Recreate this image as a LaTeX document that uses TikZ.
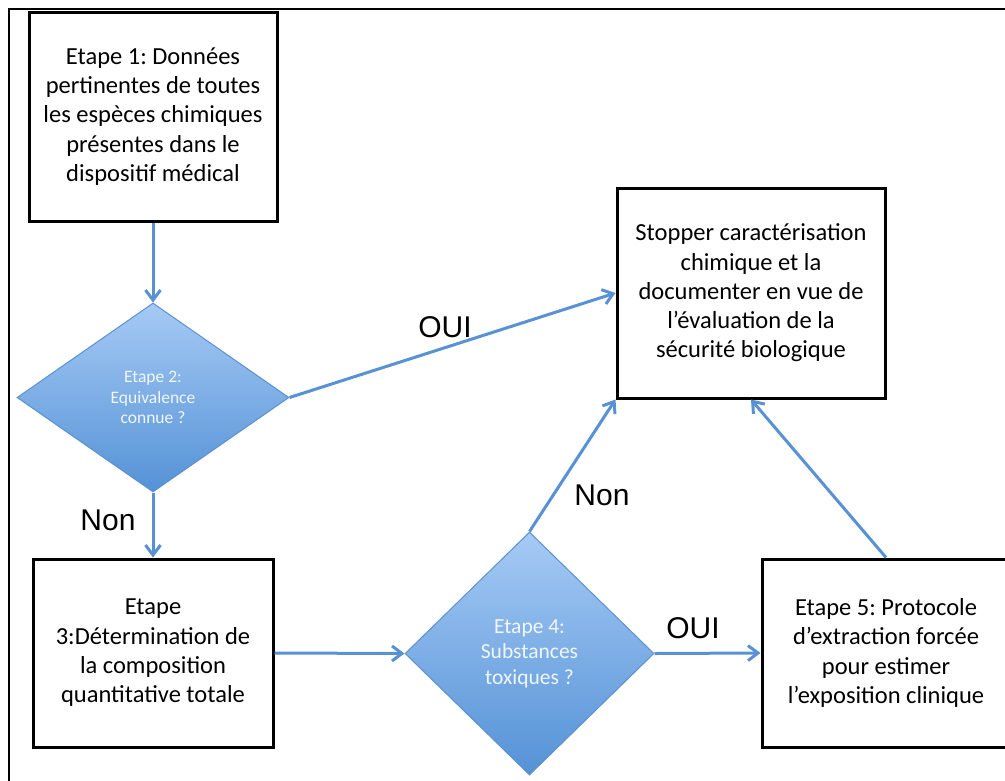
\documentclass[tikz,border=0pt]{standalone}
\usepackage{fontspec}
\setmainfont{Carlito}
\newfontfamily\labfont{Liberation Sans}
\usetikzlibrary{shapes.geometric,arrows.meta}
\frenchspacing
\definecolor{flowblue}{RGB}{88,145,212}
\definecolor{diatop}{RGB}{166,202,245}
\definecolor{diabot}{RGB}{84,146,214}
\definecolor{diaedge}{RGB}{92,145,205}
\definecolor{diatext}{RGB}{240,246,252}
\tikzset{
  stepbox/.style={draw=black,line width=3pt,align=center,inner sep=0pt,
    font=\fontsize{24.5}{29.3}\selectfont},
  decision/.style={diamond,draw=diaedge,line width=1pt,top color=diatop,bottom color=diabot,
    text=diatext,align=center,inner sep=0pt},
  flow/.style={draw=flowblue,line width=3pt,-{Straight Barb[length=10pt,width=15pt]}},
  lab/.style={font=\labfont\fontsize{30}{36}\selectfont,inner sep=0pt}
}
\begin{document}
\begin{tikzpicture}[x=1pt,y=-1pt]
\useasboundingbox (0,0) rectangle (1005,780);
\fill[white] (0,0) rectangle (1005,780);
\draw[line width=2.2pt] (9,781) -- (9,9) -- (1006,9);

\node[stepbox,minimum width=248pt,minimum height=209pt] (s1) at (153,116.5)
  {Etape 1: Données\\pertinentes de toutes\\les espèces chimiques\\présentes dans le\\dispositif médical};
\node[decision,minimum width=272pt,minimum height=189pt,font=\fontsize{17.5}{20.7}\selectfont] (d2) at (153,397.5)
  {Etape 2:\\Equivalence\\connue ?};
\node[stepbox,minimum width=240pt,minimum height=188pt] (s3) at (153,653)
  {Etape\\3:Détermination de\\la composition\\quantitative totale};
\node[decision,minimum width=249pt,minimum height=243pt,font=\fontsize{21.5}{25.6}\selectfont] (d4) at (529.5,653.5)
  {Etape 4:\\Substances\\toxiques ?};
\node[stepbox,minimum width=268pt,minimum height=210pt] (stop) at (751,293)
  {Stopper caractérisation\\chimique et la\\documenter en vue de\\l’évaluation de la\\sécurité biologique};
\node[stepbox,minimum width=248pt,minimum height=188pt] (s5) at (886,653)
  {Etape 5: Protocole\\d’extraction forcée\\pour estimer\\l’exposition clinique};

\draw[flow] (s1.south) -- (d2.north);
\draw[flow] (d2.east) -- (stop.west);
\draw[flow] (d2.south) -- (s3.north);
\draw[flow] (s3.east) -- (d4.west);
\draw[flow] (d4.north) -- (stop.south west);
\draw[flow] (d4.east) -- (s5.west);
\draw[flow] (s5.north) -- (stop.south);

\node[lab] (oui1) at (445,327) {OUI};
\node[lab] (non1) at (108,520) {Non};
\node[lab] (non2) at (602,495) {Non};
\node[lab] (oui2) at (693,628) {OUI};
\end{tikzpicture}
\end{document}
